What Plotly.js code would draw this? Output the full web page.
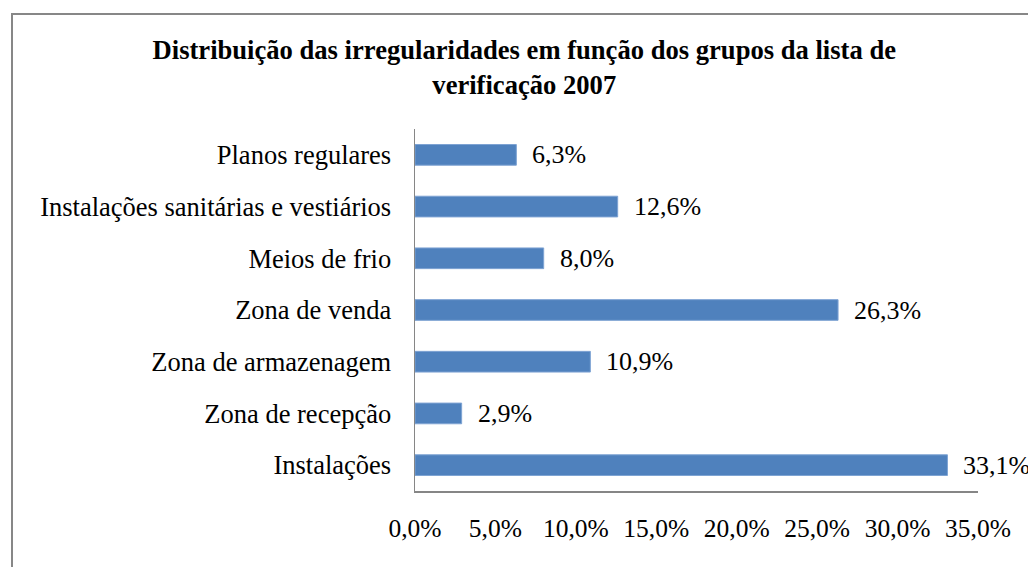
<!DOCTYPE html>
<html>
<head>
<meta charset="utf-8">
<script src="https://cdn.plot.ly/plotly-3.0.1.min.js"></script>
<style>
  html, body { margin: 0; padding: 0; background: #ffffff; overflow: hidden; }
  #chart { width: 1028px; height: 567px; }
  #frame { position: absolute; left: 11px; top: 13px; width: 1100px; height: 700px;
           border: 2px solid #878787; pointer-events: none; box-sizing: border-box; }
</style>
</head>
<body>
<div id="chart"></div>
<div id="frame"></div>
<script>
const categories = [
  "Planos regulares",
  "Instalações sanitárias e vestiários",
  "Meios de frio",
  "Zona de venda",
  "Zona de armazenagem",
  "Zona de recepção",
  "Instalações"
];
const values = [6.3, 12.6, 8.0, 26.3, 10.9, 2.9, 33.1];
const valueLabels = ["6,3%", "12,6%", "8,0%", "26,3%", "10,9%", "2,9%", "33,1%"];
const tickValues = [0, 5, 10, 15, 20, 25, 30, 35];
const tickLabels = ["0,0%", "5,0%", "10,0%", "15,0%", "20,0%", "25,0%", "30,0%", "35,0%"];

const serif = "Liberation Serif, Times New Roman, serif";

const trace = {
  type: "bar",
  orientation: "h",
  x: values,
  y: categories,
  marker: { color: "#4F81BD", line: { color: "#7EA3D3", width: 1 } },
  hoverinfo: "none"
};

const annotations = values.map((v, i) => ({
  x: v, y: categories[i], xref: "x", yref: "y",
  text: valueLabels[i], showarrow: false,
  xanchor: "left", yanchor: "middle", xshift: 14,
  font: { family: serif, size: 26, color: "#000000" }
}));

const layout = {
  width: 1028, height: 567,
  paper_bgcolor: "#ffffff", plot_bgcolor: "#ffffff",
  margin: { l: 415, r: 50, t: 129, b: 76 },
  showlegend: false,
  bargap: 0.6,
  title: {
    text: "<b>Distribuição das irregularidades em função dos grupos da lista de<br>verificação 2007</b>",
    font: { family: serif, size: 26.6, color: "#000000" },
    x: 0.51, xref: "container", xanchor: "center",
    y: 1 - 59 / 567, yref: "container", yanchor: "top"
  },
  xaxis: {
    range: [0, 35],
    tickvals: tickValues, ticktext: tickLabels,
    showgrid: false, zeroline: false,
    showline: true, linecolor: "#868686", linewidth: 1.5,
    ticks: "", ticklabelstandoff: 14,
    tickfont: { family: serif, size: 25.5, color: "#000000" },
    fixedrange: true
  },
  yaxis: {
    autorange: "reversed",
    showgrid: false, zeroline: false,
    showline: true, linecolor: "#868686", linewidth: 1.5,
    ticks: "", ticklabelstandoff: 17,
    tickfont: { family: serif, size: 26.5, color: "#000000" },
    fixedrange: true
  },
  annotations: annotations,
  font: { family: serif }
};

Plotly.newPlot("chart", [trace], layout, { displayModeBar: false, staticPlot: true });
</script>
</body>
</html>
